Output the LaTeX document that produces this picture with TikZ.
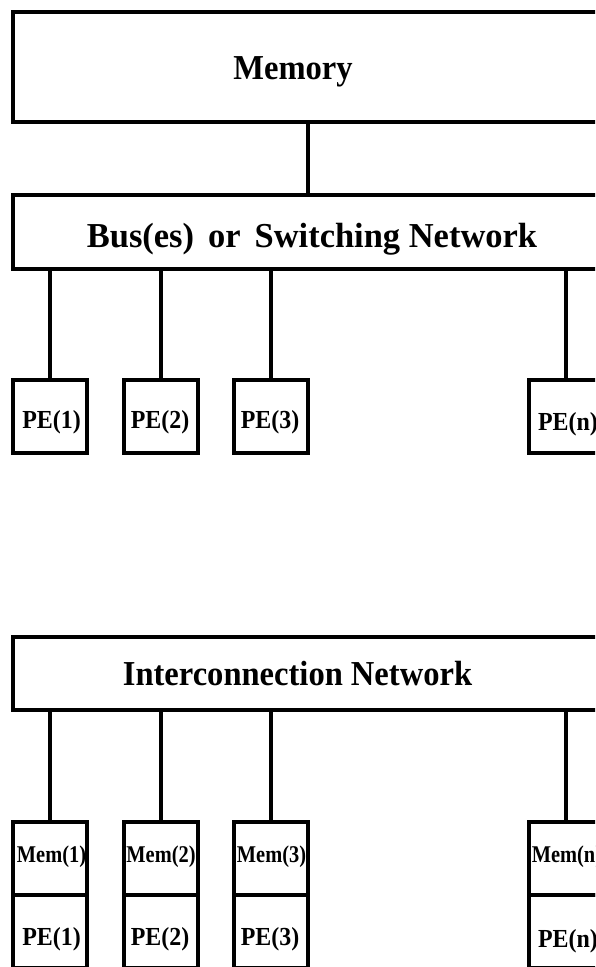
\documentclass[tikz,border=0pt]{standalone}
\usepackage{fontspec}
\setmainfont{Liberation Serif}
\newfontfamily\bigface[FakeStretch=0.93]{Liberation Serif}
\newfontfamily\busface[FakeStretch=0.985]{Liberation Serif}
\newfontfamily\peface[FakeStretch=0.92]{Liberation Serif}
\newfontfamily\memface[FakeStretch=0.85]{Liberation Serif}
\begin{document}
\begin{tikzpicture}[x=1pt,y=-1pt,
  frame/.style={draw, line width=4pt, inner sep=0pt, outer sep=0pt},
  unitbox/.style={frame, minimum width=74pt, minimum height=73pt, anchor=north west},
  widebox/.style={frame, minimum width=598pt, anchor=north west},
  wire/.style={line width=4pt},
  big/.style={font=\bigface\bfseries\fontsize{35}{37}\selectfont, inner sep=0pt, anchor=base},
  bustext/.style={font=\busface\bfseries\fontsize{35}{37}\selectfont, inner sep=0pt, anchor=base},
  mid/.style={font=\peface\bfseries\fontsize{26}{28}\selectfont, inner sep=0pt, anchor=base},
  sml/.style={font=\memface\bfseries\fontsize{24}{26}\selectfont, inner sep=0pt, anchor=base}]
\useasboundingbox (0,0) rectangle (595,967);
\clip (0,0) rectangle (595,967);
% upper diagram
\node[widebox, minimum height=110pt] (mem) at (13,12) {};
\node[big] (memt) at (293,79) {Memory};
\node[widebox, minimum height=74pt] (bus) at (13,195) {};
\node[bustext] (bust) at (312,247) {Bus(es)\hspace{14pt}or\hspace{14pt}Switching Network};
\node[unitbox] (pa1) at (13,380) {};
\node[unitbox] (pa2) at (124,380) {};
\node[unitbox] (pa3) at (234,380) {};
\node[unitbox] (pan) at (529,380) {};
\node[mid] (pa1t) at (51.5,428) {PE(1)};
\node[mid] (pa2t) at (160,428) {PE(2)};
\node[mid] (pa3t) at (270,428) {PE(3)};
\node[mid] (pant) at (568,430) {PE(n)};
\coordinate (mc) at (307.5,0);
\draw[wire] (mem.south -| mc) -- (bus.north -| mc);
\foreach \p in {pa1,pa2,pa3,pan}
  \draw[wire] (bus.south -| \p.north) -- (\p.north);
% lower diagram
\node[widebox, minimum height=73pt] (net) at (13,637) {};
\node[big] (nett) at (297.5,685) {Interconnection Network};
\node[unitbox] (m1) at (13,822) {};
\node[unitbox] (m2) at (124,822) {};
\node[unitbox] (m3) at (234,822) {};
\node[unitbox] (mn) at (529,822) {};
\node[unitbox] (pb1) at (13,895) {};
\node[unitbox] (pb2) at (124,895) {};
\node[unitbox] (pb3) at (234,895) {};
\node[unitbox] (pbn) at (529,895) {};
\node[sml] (m1t) at (51.5,862) {Mem(1)};
\node[sml] (m2t) at (161,862) {Mem(2)};
\node[sml] (m3t) at (271.5,862) {Mem(3)};
\node[sml] (mnt) at (567,862) {Mem(n)};
\node[mid] (pb1t) at (51.5,945) {PE(1)};
\node[mid] (pb2t) at (160,945) {PE(2)};
\node[mid] (pb3t) at (270,945) {PE(3)};
\node[mid] (pbnt) at (568,947) {PE(n)};
\foreach \p in {m1,m2,m3,mn}
  \draw[wire] (net.south -| \p.north) -- (\p.north);
\end{tikzpicture}
\end{document}
